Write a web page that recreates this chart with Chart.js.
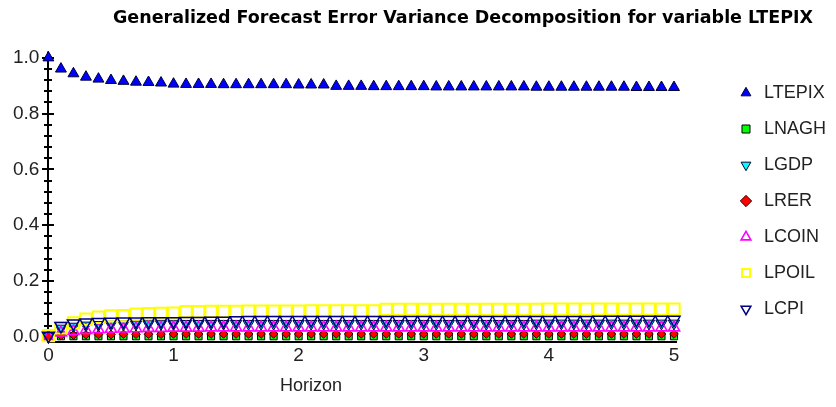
<!DOCTYPE html>
<html>
<head>
<meta charset="utf-8">
<script src="https://cdn.jsdelivr.net/npm/chart.js@4"></script>
<style>
  html, body { margin: 0; padding: 0; background: #fff; }
  #wrap { width: 836px; height: 407px; }
</style>
</head>
<body>
<div id="wrap"><canvas id="grafico"></canvas></div>
<script>
// Horizonte (eixo x) e valores de cada variável
const horizon = [0,0.1,0.2,0.3,0.4,0.5,0.6,0.7,0.8,0.9,
  1,1.1,1.2,1.3,1.4,1.5,1.6,1.7,1.8,1.9,
  2,2.1,2.2,2.3,2.4,2.5,2.6,2.7,2.8,2.9,
  3,3.1,3.2,3.3,3.4,3.5,3.6,3.7,3.8,3.9,
  4,4.1,4.2,4.3,4.4,4.5,4.6,4.7,4.8,4.9,
  5];

const ltepix = [1.000,0.960,0.943,0.931,0.924,0.919,0.916,0.913,0.912,0.910,
  0.906,0.905,0.905,0.905,0.904,0.904,0.904,0.904,0.904,0.904,
  0.903,0.903,0.903,0.898,0.898,0.898,0.897,0.897,0.897,0.897,
  0.897,0.896,0.896,0.896,0.896,0.896,0.896,0.896,0.896,0.895,
  0.895,0.895,0.895,0.895,0.895,0.895,0.895,0.894,0.894,0.894,
  0.894];
const lnagh = [0.000,0.002,0.002,0.002,0.002,0.002,0.002,0.002,0.002,0.002,
  0.002,0.002,0.002,0.002,0.002,0.002,0.002,0.002,0.002,0.002,
  0.002,0.002,0.002,0.002,0.002,0.002,0.002,0.002,0.002,0.002,
  0.002,0.002,0.002,0.002,0.002,0.002,0.002,0.002,0.002,0.002,
  0.002,0.002,0.002,0.002,0.002,0.002,0.002,0.002,0.002,0.002,
  0.002];
const lgdp = [0.000,0.030,0.037,0.041,0.043,0.044,0.045,0.045,0.046,0.046,
  0.046,0.047,0.047,0.047,0.047,0.047,0.047,0.047,0.047,0.047,
  0.047,0.047,0.047,0.047,0.047,0.047,0.047,0.047,0.047,0.047,
  0.047,0.047,0.047,0.047,0.047,0.047,0.047,0.047,0.047,0.048,
  0.048,0.048,0.048,0.048,0.048,0.048,0.048,0.048,0.048,0.048,
  0.048];
const lrer = [0.000,0.004,0.006,0.007,0.008,0.008,0.009,0.009,0.009,0.009,
  0.010,0.010,0.010,0.010,0.010,0.010,0.010,0.010,0.010,0.010,
  0.010,0.010,0.010,0.010,0.010,0.010,0.010,0.010,0.010,0.010,
  0.010,0.010,0.010,0.010,0.010,0.010,0.010,0.010,0.010,0.010,
  0.010,0.010,0.010,0.010,0.010,0.010,0.010,0.010,0.010,0.010,
  0.010];
const lcoin = [0.000,0.015,0.020,0.024,0.026,0.028,0.029,0.030,0.031,0.031,
  0.032,0.032,0.032,0.033,0.033,0.033,0.033,0.033,0.033,0.033,
  0.033,0.033,0.033,0.033,0.033,0.033,0.033,0.033,0.033,0.033,
  0.033,0.033,0.033,0.033,0.033,0.033,0.033,0.033,0.033,0.033,
  0.033,0.033,0.033,0.033,0.033,0.033,0.033,0.033,0.033,0.033,
  0.033];
const lpoil = [0.004,0.032,0.050,0.063,0.070,0.075,0.076,0.081,0.083,0.084,
  0.085,0.090,0.090,0.091,0.091,0.091,0.092,0.092,0.092,0.092,
  0.092,0.093,0.093,0.093,0.093,0.093,0.093,0.098,0.098,0.098,
  0.098,0.098,0.098,0.098,0.098,0.098,0.098,0.098,0.098,0.098,
  0.099,0.099,0.099,0.099,0.099,0.099,0.099,0.099,0.099,0.099,
  0.099];
const lcpi = [0.004,0.039,0.048,0.051,0.053,0.054,0.055,0.055,0.056,0.056,
  0.056,0.057,0.057,0.058,0.058,0.059,0.060,0.060,0.060,0.060,
  0.060,0.060,0.060,0.060,0.060,0.060,0.060,0.060,0.060,0.060,
  0.060,0.060,0.060,0.060,0.060,0.060,0.060,0.060,0.060,0.060,
  0.060,0.060,0.060,0.060,0.061,0.061,0.061,0.061,0.061,0.061,
  0.061];

const yMajorTicks = [0, 0.2, 0.4, 0.6, 0.8, 1.0];
const xTicks = [0, 1, 2, 3, 4, 5];

// Monta os pontos {x, y} a partir dos arrays
function pontos(valores) {
  return horizon.map((h, i) => ({ x: h, y: valores[i] }));
}

const fonte = { family: 'Liberation Sans, Arial, sans-serif', size: 18 };
const fonteEixo = { family: 'Liberation Sans, Arial, sans-serif', size: 19 };
const vazio = 'rgba(0,0,0,0)'; // marcador só com contorno

// Cada série: marcador, preenchimento, contorno
function serie(nome, valores, estilo, fundo, borda, espessura, rotacao, raio, ordem) {
  return {
    label: nome,
    data: pontos(valores),
    pointStyle: estilo,
    rotation: rotacao,
    pointRotation: rotacao,
    backgroundColor: fundo,
    borderColor: borda,
    borderWidth: espessura,
    pointRadius: raio,
    pointHoverRadius: raio,
    showLine: false,
    clip: false,
    order: ordem
  };
}

// Eixos com marcas de escala atravessando a linha, como no original
const eixos = {
  id: 'eixos',
  afterLayout(chart) {
    // posição horizontal do título
    if (chart.titleBlock) { chart.titleBlock.left = 113; chart.titleBlock.right = 813; }
  },
  beforeDatasetsDraw(chart) {
    const { ctx, chartArea: a, scales: { y } } = chart;
    ctx.save();
    ctx.strokeStyle = '#000000';
    ctx.lineWidth = 2;
    ctx.beginPath();
    const xe = Math.round(a.left);
    const yb = Math.round(a.bottom) + 1;
    ctx.moveTo(xe, a.top);
    ctx.lineTo(xe, yb);
    ctx.moveTo(xe - 1, yb);
    ctx.lineTo(a.right + 3, yb);
    y.ticks.forEach(t => {
      const py = Math.round(y.getPixelForValue(t.value));
      const maior = yMajorTicks.some(m => Math.abs(m - t.value) < 1e-6);
      const d = maior ? 6 : 4;
      ctx.moveTo(xe - d, py);
      ctx.lineTo(xe + d, py);
    });
    ctx.stroke();
    ctx.restore();
  },
  afterDraw(chart) {
    const { ctx, chartArea: a } = chart;
    ctx.save();
    ctx.fillStyle = '#222';
    ctx.font = '18px Liberation Sans, Arial, sans-serif';
    ctx.textAlign = 'center';
    ctx.textBaseline = 'middle';
    ctx.fillText('Horizon', 311, a.bottom + 45);
    ctx.restore();
  }
};

const ctx = document.getElementById('grafico').getContext('2d');

const grafico = new Chart(ctx, {
  type: 'scatter',
  data: {
    datasets: [
      serie('LTEPIX', ltepix, 'triangle', '#0000ff', '#000033', 1, 0, 6.3, 7),
      serie('LNAGH', lnagh, 'rect', '#00ff00', '#000000', 1, 0, 5, 6),
      serie('LGDP', lgdp, 'triangle', '#00ffff', '#000033', 1, 180, 6.5, 5),
      serie('LRER', lrer, 'rectRot', '#ff0000', '#330000', 1, 0, 4.3, 4),
      serie('LCOIN', lcoin, 'triangle', vazio, '#ff00ff', 1.6, 0, 6.5, 3),
      serie('LPOIL', lpoil, 'rect', vazio, '#ffff00', 2, 0, 8, 2),
      serie('LCPI', lcpi, 'triangle', vazio, '#000080', 1.5, 180, 7, 1)
    ]
  },
  plugins: [eixos],
  options: {
    responsive: true,
    maintainAspectRatio: false,
    animation: false,
    layout: { padding: { left: 4, right: 0, top: 0, bottom: 5 } },
    plugins: {
      tooltip: { enabled: false },
      title: {
        display: true,
        text: 'Generalized Forecast Error Variance Decomposition for variable LTEPIX',
        align: 'center',
        color: '#000',
        font: { family: 'DejaVu Sans, sans-serif', size: 18, weight: 'bold' },
        padding: { top: 8, bottom: 22 }
      },
      legend: {
        display: true,
        position: 'right',
        reverse: true,
        labels: {
          usePointStyle: true,
          boxWidth: 18,
          boxHeight: 8,
          padding: 18,
          color: '#222',
          font: fonte
        }
      }
    },
    scales: {
      x: {
        type: 'linear',
        min: 0,
        max: 5,
        afterBuildTicks: (escala) => { escala.ticks = xTicks.map(v => ({ value: v })); },
        afterFit: (escala) => { escala.height = 61; },
        grid: { display: false, drawTicks: false },
        border: { display: false },
        ticks: { color: '#222', font: fonteEixo, padding: 3 }
      },
      y: {
        min: -0.015,
        max: 1.022,
        afterBuildTicks: (escala) => {
          const lista = [];
          for (let k = 0; k <= 25; k++) lista.push({ value: k * 0.04 });
          escala.ticks = lista;
        },
        grid: { display: false, drawTicks: false },
        border: { display: false },
        ticks: {
          color: '#222',
          font: fonteEixo,
          padding: 9,
          autoSkip: false,
          callback: (v) => {
            const m = yMajorTicks.find(t => Math.abs(t - v) < 1e-6);
            return m === undefined ? '' : m.toFixed(1);
          }
        }
      },
      // eixo vazio à direita: só abre espaço entre o gráfico e a legenda
      folga: {
        type: 'linear',
        position: 'right',
        display: true,
        grid: { display: false, drawTicks: false },
        border: { display: false },
        ticks: { display: false },
        afterFit: (escala) => { escala.width = 45; }
      }
    }
  }
});
</script>
</body>
</html>
